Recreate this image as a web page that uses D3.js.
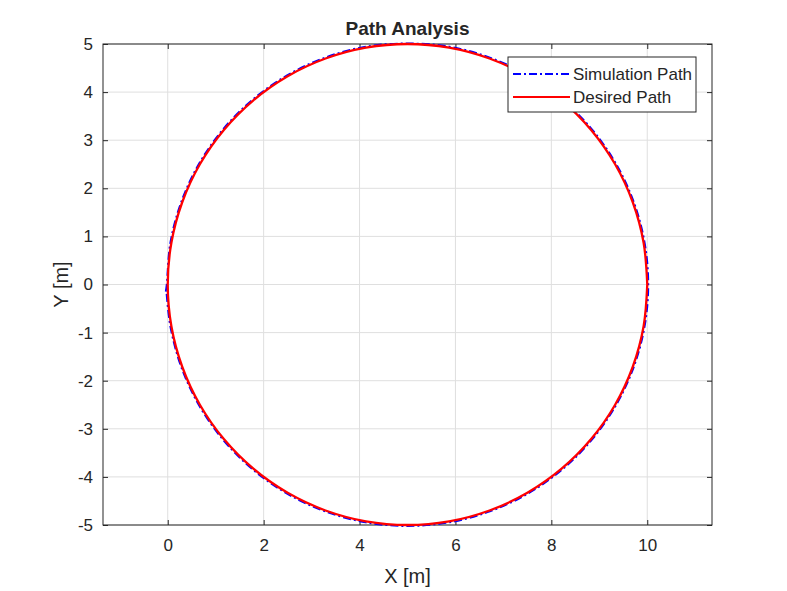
<!DOCTYPE html>
<html>
<head>
<meta charset="utf-8">
<script src="https://cdn.jsdelivr.net/npm/d3@7"></script>
<style>
  body { margin: 0; background: #fff; }
  text { font-family: "Liberation Sans", Arial, sans-serif; fill: #262626; }
</style>
</head>
<body>
<div id="chart"></div>
<script>
// Data
let desiredX = [10, 9.924, 9.698, 9.330, 8.830, 8.214, 7.5, 6.710, 5.868, 5, 4.132, 3.290, 2.5, 1.786, 1.170, 0.670, 0.302, 0.076, 0,
                0.076, 0.302, 0.670, 1.170, 1.786, 2.5, 3.290, 4.132, 5, 5.868, 6.710, 7.5, 8.214, 8.830, 9.330, 9.698, 9.924, 10];
let desiredY = [0, 0.868, 1.710, 2.5, 3.214, 3.830, 4.330, 4.698, 4.924, 5, 4.924, 4.698, 4.330, 3.830, 3.214, 2.5, 1.710, 0.868, 0,
                -0.868, -1.710, -2.5, -3.214, -3.830, -4.330, -4.698, -4.924, -5, -4.924, -4.698, -4.330, -3.830, -3.214, -2.5, -1.710, -0.868, 0];

let simX = [-0.04, -0.02, 0.056, 0.283, 0.653, 1.155, 1.773, 2.49, 3.283, 4.128, 5.0, 5.872, 6.717, 7.51, 8.227, 8.845, 9.347, 9.717, 9.944, 10.02,
            9.944, 9.717, 9.347, 8.845, 8.227, 7.51, 6.717, 5.872, 5.0, 4.128, 3.283, 2.49, 1.773, 1.155, 0.653, 0.283, 0.056, -0.03];
let simY = [-0.15, 0, 0.872, 1.717, 2.51, 3.227, 3.845, 4.347, 4.717, 4.944, 5.01, 4.944, 4.717, 4.347, 3.845, 3.227, 2.51, 1.717, 0.872, 0,
            -0.872, -1.717, -2.51, -3.227, -3.845, -4.347, -4.717, -4.944, -5.02, -4.944, -4.717, -4.347, -3.845, -3.227, -2.51, -1.717, -0.872, -0.1];

let xTicks = [0, 2, 4, 6, 8, 10];
let yTicks = [-5, -4, -3, -2, -1, 0, 1, 2, 3, 4, 5];

let W = 787, H = 591;
let margin = {top: 44, left: 103, right: 75, bottom: 66};
let width = W - margin.left - margin.right,
    height = H - margin.top - margin.bottom;

let svg = d3.select("#chart").append("svg").attr("width", W).attr("height", H);
let g = svg.append("g").attr("transform", "translate(" + margin.left + "," + margin.top + ")");

let x = d3.scaleLinear().domain([-1.35, 11.35]).range([0, width]);
let y = d3.scaleLinear().domain([-5, 5]).range([height, 0]);

//Grid
g.selectAll(".gx").data(xTicks).enter().append("line")
  .attr("x1", d => x(d)).attr("x2", d => x(d)).attr("y1", 0).attr("y2", height)
  .attr("stroke", "#dfdfdf").attr("stroke-width", 1);
g.selectAll(".gy").data(yTicks).enter().append("line")
  .attr("y1", d => y(d)).attr("y2", d => y(d)).attr("x1", 0).attr("x2", width)
  .attr("stroke", "#dfdfdf").attr("stroke-width", 1);

//Axes (ticks pointing inward, box on)
let axisStyle = sel => {
  sel.select(".domain").remove();
  sel.selectAll(".tick line").attr("stroke", "#262626");
  sel.selectAll(".tick text").style("font-size", "17px").attr("fill", "#262626");
};
let fmt = d => String(d);
g.append("g").attr("transform", "translate(0," + height + ")")
  .call(d3.axisBottom(x).tickValues(xTicks).tickFormat(fmt).tickSizeInner(-5).tickSizeOuter(0).tickPadding(14))
  .call(axisStyle);
g.append("g")
  .call(d3.axisLeft(y).tickValues(yTicks).tickFormat(fmt).tickSizeInner(-5).tickSizeOuter(0).tickPadding(10))
  .call(axisStyle);
g.append("g").attr("transform", "translate(0,0)")
  .call(d3.axisTop(x).tickValues(xTicks).tickSizeInner(-5).tickSizeOuter(0).tickFormat(""))
  .call(axisStyle);
g.append("g").attr("transform", "translate(" + width + ",0)")
  .call(d3.axisRight(y).tickValues(yTicks).tickSizeInner(-5).tickSizeOuter(0).tickFormat(""))
  .call(axisStyle);

g.append("rect").attr("width", width).attr("height", height)
  .attr("fill", "none").attr("stroke", "#262626").attr("stroke-width", 1);

//Paths
let line = d3.line().x(d => x(d[0])).y(d => y(d[1])).curve(d3.curveCatmullRom);
let simPts = simX.map((v, i) => [v, simY[i]]);
let desPts = desiredX.map((v, i) => [v, desiredY[i]]);

g.append("path").datum(simPts).attr("d", line)
  .attr("fill", "none").attr("stroke", "#0000ff").attr("stroke-width", 2)
  .attr("stroke-dasharray", "8,3,2,3");
g.append("path").datum(desPts).attr("d", line)
  .attr("fill", "none").attr("stroke", "#ff0000").attr("stroke-width", 2.3);

//Title and labels
svg.append("text").attr("x", margin.left + width / 2).attr("y", 35)
  .attr("text-anchor", "middle").style("font-size", "19px").style("font-weight", "bold")
  .attr("fill", "#000").text("Path Analysis");
svg.append("text").attr("x", margin.left + width / 2).attr("y", 583)
  .attr("text-anchor", "middle").style("font-size", "20px").text("X [m]");
svg.append("text").attr("transform", "translate(68," + (margin.top + height / 2) + ") rotate(-90)")
  .attr("text-anchor", "middle").style("font-size", "20px").text("Y [m]");

//Legend
let lg = svg.append("g").attr("transform", "translate(508,57)");
lg.append("rect").attr("width", 188).attr("height", 55)
  .attr("fill", "#fff").attr("stroke", "#262626").attr("stroke-width", 1);
let legendItems = [
  {label: "Simulation Path", color: "#0000ff", dash: "8,3,2,3"},
  {label: "Desired Path", color: "#ff0000", dash: null}
];
legendItems.forEach((d, i) => {
  let yy = 17 + i * 23;
  lg.append("line").attr("x1", 5).attr("x2", 62).attr("y1", yy).attr("y2", yy)
    .attr("stroke", d.color).attr("stroke-width", 2)
    .attr("stroke-dasharray", d.dash);
  lg.append("text").attr("x", 65).attr("y", yy + 6).style("font-size", "17px").text(d.label);
});
</script>
</body>
</html>
